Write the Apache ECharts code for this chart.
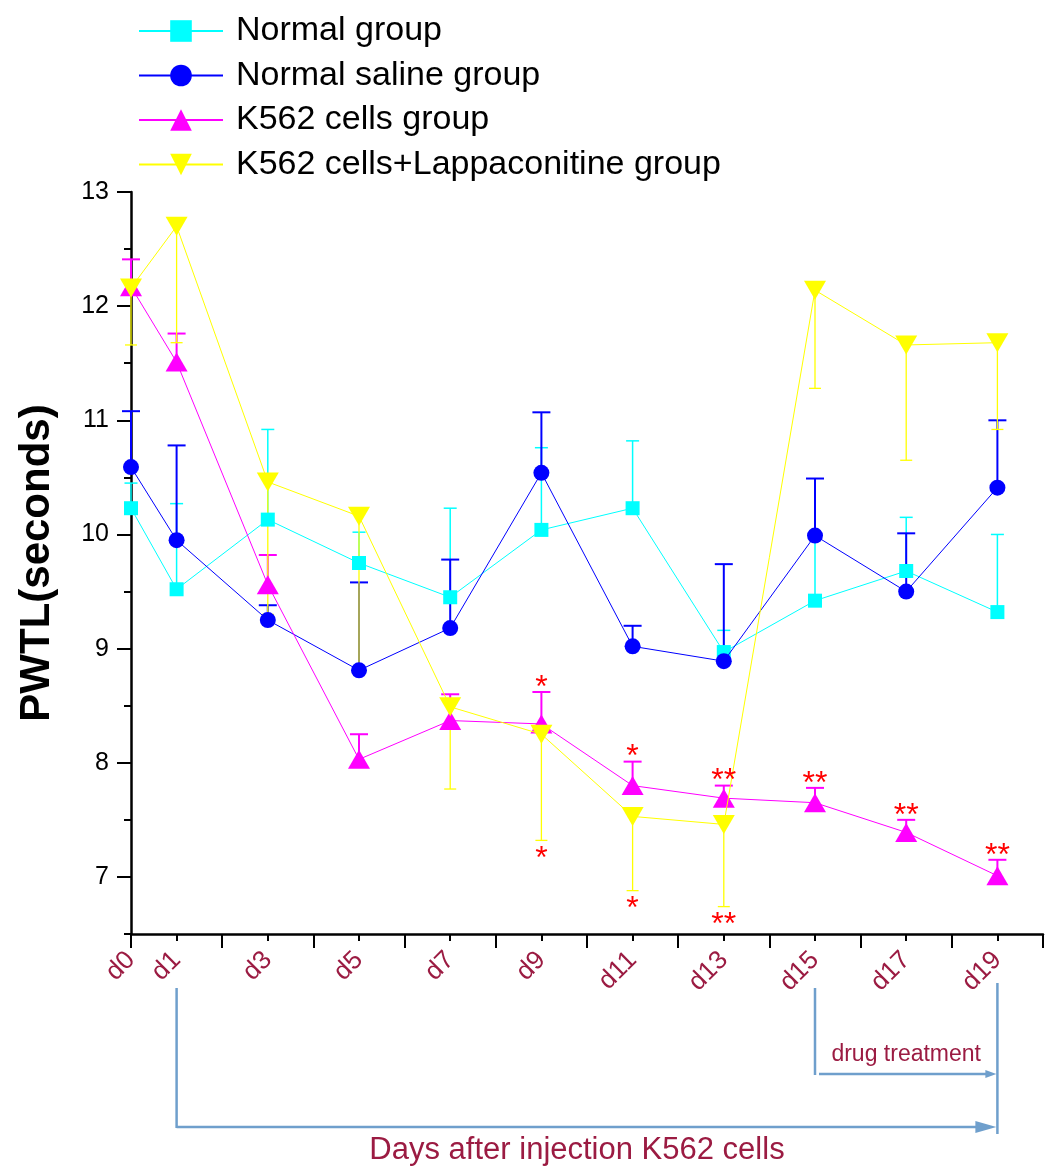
<!DOCTYPE html>
<html><head><meta charset="utf-8">
<script src="https://cdn.jsdelivr.net/npm/echarts@6/dist/echarts.min.js"></script>
<style>html,body{margin:0;padding:0;background:#fff}#c{width:1046px;height:1166px}</style>
</head><body><div id="c"></div>
<script>
// ---- data ----
const days = [0, 1, 3, 5, 7, 9, 11, 13, 15, 17, 19];
const seriesNames = ['Normal group', 'Normal saline group', 'K562 cells group', 'K562 cells+Lappaconitine group'];
const normal     = [10.23, 9.52, 10.13, 9.75, 9.45, 10.04, 10.23, 8.97, 9.42, 9.68, 9.32];
const normalErr  = [10.45, 10.27, 10.92, 10.02, 10.23, 10.76, 10.82, 9.16, 9.98, 10.15, 10.00];
const saline     = [10.59, 9.95, 9.25, 8.81, 9.18, 10.54, 9.02, 8.89, 9.99, 9.50, 10.41];
const salineErr  = [11.08, 10.78, 9.38, 9.58, 9.78, 11.07, 9.20, 9.74, 10.49, 10.01, 11.00];
const k562       = [12.17, 11.51, 9.56, 8.03, 8.37, 8.34, 7.80, 7.69, 7.65, 7.39, 7.01];
const k562Err    = [12.41, 11.76, 9.82, 8.25, 8.60, 8.62, 8.01, 7.80, 7.78, 7.50, 7.15];
const lap        = [12.16, 12.70, 10.46, 10.16, 8.49, 8.25, 7.53, 7.46, 12.14, 11.66, 11.68];
const lapErr     = [11.66, 11.68, 9.30, 8.82, 7.77, 7.32, 6.88, 6.74, 11.28, 10.65, 10.92];
const k562Sig    = ['', '', '', '', '', '*', '*', '**', '**', '**', '**'];
const lapSig     = ['', '', '', '', '', '*', '*', '**', '', '', ''];
const yMajorTicks = [7, 8, 9, 10, 11, 12, 13];
const yMinorTicks = [6.5, 7.5, 8.5, 9.5, 10.5, 11.5, 12.5];
const xMajorTicks = [0, 2, 4, 6, 8, 10, 12, 14, 16, 18, 20];
const xMinorTicks = [1, 3, 5, 7, 9, 11, 13, 15, 17, 19];
const xLabelValues = [0, 1, 3, 5, 7, 9, 11, 13, 15, 17, 19];
const yName = 'PWTL(seconds)';
const xTitle = 'Days after injection K562 cells';
const drugText = 'drug treatment';

// ---- layout ----
const W = 1046, H = 1166;
const G = {left: 131, right: 3, top: 192, bottom: 232};
const FONT = 'Liberation Sans, Arial, sans-serif';
const maroon = '#9B1B42';
const arrowC = '#6F9FCC';

function pts(vals) { return days.map((d, i) => [d, vals[i]]); }

function errSeries(vals, ends, color, lw, cap, z) {
  return {
    type: 'custom', silent: true, z: z, clip: false,
    data: days.map((d, i) => [d, vals[i], ends[i]]),
    encode: {x: 0, y: [1, 2]},
    renderItem: (params, api) => {
      const p0 = api.coord([api.value(0), api.value(1)]);
      const p1 = api.coord([api.value(0), api.value(2)]);
      return {type: 'group', children: [
        {type: 'line', shape: {x1: p0[0], y1: p0[1], x2: p1[0], y2: p1[1]}, style: {stroke: color, lineWidth: lw}},
        {type: 'line', shape: {x1: p1[0] - cap / 2, y1: p1[1], x2: p1[0] + cap / 2, y2: p1[1]}, style: {stroke: color, lineWidth: lw}}
      ]};
    }
  };
}

function sigSeries(ends, labels, above) {
  return {
    type: 'custom', silent: true, z: 10, clip: false,
    data: days.map((d, i) => [d, ends[i], labels[i]]),
    encode: {x: 0, y: 1},
    renderItem: (params, api) => {
      const t = labels[params.dataIndex];
      if (!t) return null;
      const p = api.coord([api.value(0), api.value(1)]);
      return {type: 'text', x: p[0], y: above ? p[1] - 4 : p[1] + 19,
        style: {text: t, fill: '#FF0000', font: '32px ' + FONT, align: 'center', verticalAlign: 'middle'}};
    }
  };
}

function lineSeries(name, vals, color, symbol, size, rotate, z) {
  return {
    name: name, type: 'line', data: pts(vals), z: z,
    symbol: symbol, symbolSize: size, symbolRotate: rotate, showSymbol: true,
    lineStyle: {width: 1, color: color}, itemStyle: {color: color},
    emphasis: {disabled: true}
  };
}

const chart = echarts.init(document.getElementById('c'), null, {renderer: 'canvas'});
chart.setOption({
  animation: false,
  backgroundColor: '#fff',
  grid: {left: G.left, right: G.right, top: G.top, bottom: G.bottom, containLabel: false, outerBoundsMode: 'none'},
  legend: {
    data: seriesNames, orient: 'vertical', left: 133, top: 9,
    itemWidth: 84, itemHeight: 27, itemGap: 10.5,
    textStyle: {fontSize: 34, color: '#000', fontFamily: FONT, padding: [0, 0, 0, 8]},
    selectedMode: false
  },
  xAxis: [{
    type: 'value', min: 0, max: 20, position: 'bottom',
    axisLine: {show: true, lineStyle: {color: '#000', width: 2.5}},
    axisTick: {show: true, customValues: xMajorTicks, length: 14, lineStyle: {color: '#000', width: 2}},
    axisLabel: {show: true, customValues: xLabelValues, rotate: 45, margin: 22, color: maroon,
      fontSize: 26, fontFamily: FONT, formatter: v => 'd' + v},
    splitLine: {show: false}
  }, {
    type: 'value', min: 0, max: 20, position: 'bottom', offset: 0,
    axisLine: {show: false},
    axisTick: {show: true, customValues: xMinorTicks, length: 7, lineStyle: {color: '#000', width: 2}},
    axisLabel: {show: false}, splitLine: {show: false}
  }],
  yAxis: [{
    type: 'value', min: 6.5, max: 13, position: 'left',
    name: yName, nameLocation: 'middle', nameGap: 73,
    nameTextStyle: {fontSize: 42, fontWeight: 'bold', color: '#000', fontFamily: FONT},
    axisLine: {show: true, lineStyle: {color: '#000', width: 2.5}},
    axisTick: {show: true, customValues: yMajorTicks, length: 14, lineStyle: {color: '#000', width: 2}},
    axisLabel: {show: true, customValues: yMajorTicks, margin: 22, color: '#000', fontSize: 25, fontFamily: FONT},
    splitLine: {show: false}
  }, {
    type: 'value', min: 6.5, max: 13, position: 'left', offset: 0,
    axisLine: {show: false},
    axisTick: {show: true, customValues: yMinorTicks, length: 7, lineStyle: {color: '#000', width: 2}},
    axisLabel: {show: false}, splitLine: {show: false}
  }],
  series: [
    errSeries(normal, normalErr, '#00FFFF', 1.5, 13, 2),
    errSeries(saline, salineErr, '#0000FF', 2, 18, 3),
    errSeries(k562, k562Err, '#FF00FF', 2, 18, 4),
    errSeries(lap, lapErr, '#FFFF00', 1.3, 12, 5),
    lineSeries(seriesNames[0], normal, '#00FFFF', 'rect', 14, 0, 6),
    lineSeries(seriesNames[1], saline, '#0000FF', 'circle', 16, 0, 7),
    lineSeries(seriesNames[2], k562, '#FF00FF', 'triangle', [22, 19], 0, 8),
    lineSeries(seriesNames[3], lap, '#FFFF00', 'triangle', [22, 19], 180, 9),
    sigSeries(k562Err, k562Sig, true),
    sigSeries(lapErr, lapSig, false)
  ]
});

// annotations below the axis, anchored to axis values
const px = d => chart.convertToPixel({xAxisIndex: 0}, d);
const x1 = px(1), x15 = px(15), x19 = px(19);
const ls = {stroke: arrowC, lineWidth: 2.5};
chart.setOption({
  graphic: [
    {type: 'line', shape: {x1: x1, y1: 988, x2: x1, y2: 1128}, style: ls},
    {type: 'line', shape: {x1: x1, y1: 1127, x2: x19 - 18, y2: 1127}, style: ls},
    {type: 'polygon', shape: {points: [[x19 - 22, 1121], [x19 - 1, 1127], [x19 - 22, 1133]]}, style: {fill: arrowC}},
    {type: 'line', shape: {x1: x19, y1: 983, x2: x19, y2: 1134}, style: ls},
    {type: 'line', shape: {x1: x15, y1: 988, x2: x15, y2: 1075}, style: ls},
    {type: 'line', shape: {x1: x15 + 4, y1: 1074, x2: x19 - 10, y2: 1074}, style: ls},
    {type: 'polygon', shape: {points: [[x19 - 12, 1070], [x19 - 1, 1074], [x19 - 12, 1078]]}, style: {fill: arrowC}},
    {type: 'text', x: (x15 + x19) / 2, y: 1066,
      style: {text: drugText, fill: maroon, font: '23px ' + FONT, align: 'center', verticalAlign: 'bottom'}},
    {type: 'text', x: 577, y: 1150,
      style: {text: xTitle, fill: maroon, font: '31px ' + FONT, align: 'center', verticalAlign: 'middle'}}
  ]
});
</script>
</body></html>
